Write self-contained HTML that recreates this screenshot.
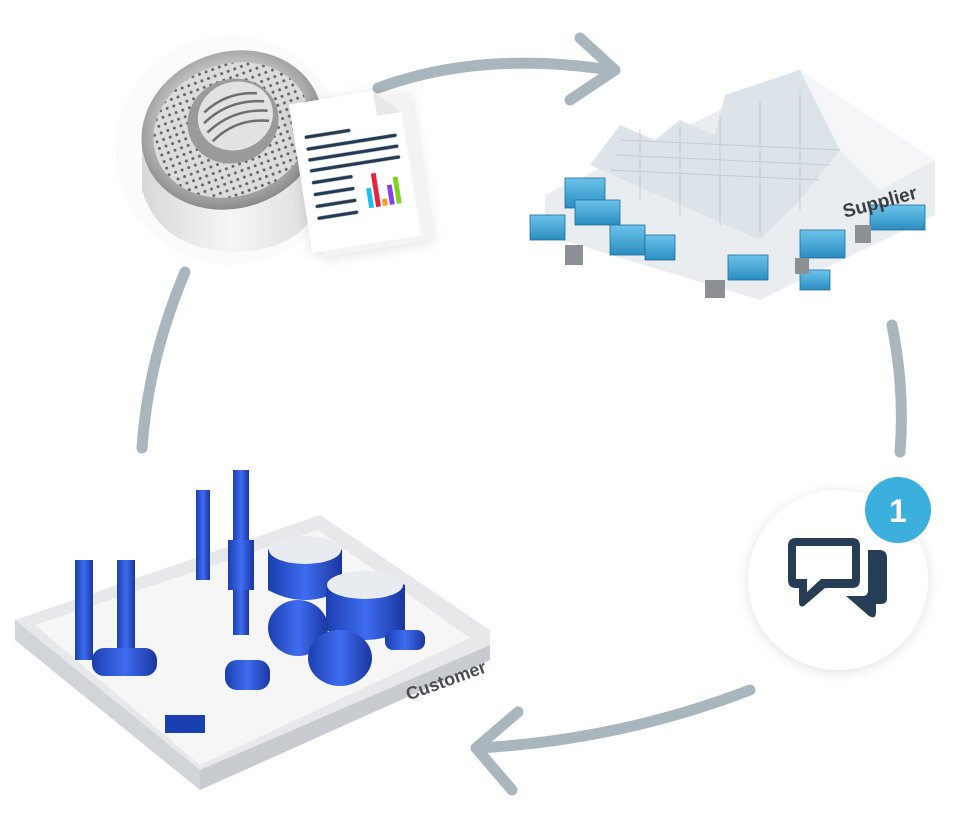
<!DOCTYPE html>
<html><head><meta charset="utf-8"><style>
html,body{margin:0;padding:0;background:#fff;width:972px;height:815px;overflow:hidden}
svg{display:block}
</style></head><body>
<svg width="972" height="815" viewBox="0 0 972 815" xmlns="http://www.w3.org/2000/svg" font-family="Liberation Sans, sans-serif">
<defs>
<radialGradient id="ring" cx="50%" cy="45%" r="55%">
<stop offset="0" stop-color="#f4f4f4"/><stop offset="0.6" stop-color="#cfcfcf"/><stop offset="1" stop-color="#8a8a8a"/></radialGradient>
<pattern id="holes" width="7" height="7" patternUnits="userSpaceOnUse"><rect width="7" height="7" fill="#dcdcdc"/><circle cx="3.5" cy="3.5" r="1.5" fill="#666"/></pattern>
<linearGradient id="cont" x1="0" y1="0" x2="0" y2="1"><stop offset="0" stop-color="#6cc3ea"/><stop offset="1" stop-color="#2a8dc0"/></linearGradient>
<linearGradient id="blu" x1="0" y1="0" x2="1" y2="0"><stop offset="0" stop-color="#1a3fb0"/><stop offset="0.5" stop-color="#3f6cf0"/><stop offset="1" stop-color="#1a36a0"/></linearGradient>
<linearGradient id="side" x1="0" y1="0" x2="1" y2="0"><stop offset="0" stop-color="#d8d8d8"/><stop offset="0.5" stop-color="#f6f6f6"/><stop offset="1" stop-color="#dcdcdc"/></linearGradient>
<filter id="sh" x="-30%" y="-30%" width="160%" height="160%"><feDropShadow dx="0" dy="2" stdDeviation="6" flood-color="#000" flood-opacity="0.12"/></filter>
</defs>
<g fill="none" stroke="#a9b6bd" stroke-width="11" stroke-linecap="round" stroke-linejoin="round">
<path d="M378 88 Q480 50 610 70"/>
<path d="M580 38 L615 70 L570 100"/>
<path d="M892 325 Q905 390 900 452"/>
<path d="M750 690 Q620 740 478 748"/>
<path d="M518 712 L476 748 L512 790"/>
<path d="M185 272 Q148 360 142 448"/>
</g>
<!-- ring -->
<circle cx="230" cy="150" r="115" fill="#fbfbfb"/>
<path d="M142 140 L142 190 Q160 250 235 252 Q305 250 320 200 L320 140 Z" fill="url(#side)"/>
<g transform="rotate(-20 232 130)">
<ellipse cx="232" cy="130" rx="92" ry="78" fill="url(#ring)"/>
<ellipse cx="232" cy="130" rx="80" ry="66" fill="url(#holes)"/>
<ellipse cx="236" cy="122" rx="46" ry="42" fill="#9a9a9a"/>
<ellipse cx="240" cy="118" rx="38" ry="34" fill="#e2e2e2"/>
<g stroke="#6e6e6e" stroke-width="2.5" fill="none"><path d="M212 104 Q240 92 268 104"/><path d="M208 114 Q240 100 272 114"/><path d="M208 124 Q240 110 272 124"/><path d="M210 134 Q240 120 270 134"/></g>
</g>
<!-- document -->
<g transform="rotate(-9 355 170)" filter="url(#sh)">
<rect x="305" y="95" width="110" height="150" fill="#f3f3f3" transform="translate(6 6)"/>
<path d="M300 95 L385 95 L410 120 L410 245 L300 245 Z" fill="#fff"/>
<path d="M385 95 L385 120 L410 120 Z" fill="#e8e8e8"/>
<g stroke="#243a54" stroke-width="3.5" stroke-linecap="round">
<line x1="312" y1="130" x2="355" y2="130"/><line x1="312" y1="142" x2="400" y2="142"/><line x1="312" y1="153" x2="400" y2="153"/><line x1="312" y1="164" x2="400" y2="164"/><line x1="312" y1="176" x2="350" y2="176"/><line x1="312" y1="188" x2="350" y2="188"/><line x1="312" y1="200" x2="350" y2="200"/><line x1="312" y1="212" x2="350" y2="212"/></g>
<rect x="363" y="190" width="5" height="20" fill="#1fc0f0"/><rect x="370" y="176" width="5" height="34" fill="#e8203a"/><rect x="377" y="203" width="5" height="7" fill="#f59a23"/><rect x="384" y="190" width="5" height="20" fill="#8a3ee8"/><rect x="391" y="183" width="5" height="27" fill="#7ed321"/></g>
<!-- supplier -->
<path d="M545 195 L720 110 L730 95 L800 70 L935 160 L935 215 L760 300 L545 235 Z" fill="#e9edf0"/>
<path d="M590 165 L620 125 L655 140 L680 120 L715 135 L725 95 L800 70 L840 150 L800 200 L760 240 Z" fill="#dce3e9"/>
<path d="M800 70 L935 160 L880 190 L840 150 Z" fill="#f4f6f8"/>
<g stroke="#c2ccd4" stroke-width="1" fill="none">
<path d="M620 140 L840 150"/><path d="M615 155 L830 165"/><path d="M610 170 L820 180"/><path d="M640 130 L640 200"/><path d="M680 125 L680 215"/><path d="M720 115 L720 225"/><path d="M760 100 L760 235"/><path d="M800 90 L800 210"/></g>
<g fill="url(#cont)" stroke="#1e6f9a" stroke-width="0.8">
<rect x="565" y="178" width="40" height="30"/><rect x="575" y="200" width="45" height="25"/><rect x="530" y="215" width="35" height="25"/><rect x="610" y="225" width="35" height="30"/><rect x="645" y="235" width="30" height="25"/><rect x="728" y="255" width="40" height="25"/><rect x="800" y="230" width="45" height="28"/><rect x="870" y="205" width="55" height="25"/><rect x="800" y="270" width="30" height="20"/></g>
<g fill="#8c9095"><rect x="565" y="245" width="18" height="20"/><rect x="705" y="280" width="20" height="18"/><rect x="795" y="258" width="14" height="16"/><rect x="855" y="225" width="16" height="18"/></g>
<text x="840" y="208" font-size="19" font-weight="bold" fill="#3b3f44" transform="rotate(-15 880 195)">Supplier</text>
<!-- customer -->
<path d="M15 620 L320 515 L490 630 L490 660 L200 790 L15 640 Z" fill="#e6e8ea"/>
<path d="M35 625 L318 530 L470 638 L200 765 Z" fill="#f6f6f6"/>
<path d="M15 620 L15 640 L200 790 L200 770 Z" fill="#d2d5d8"/>
<path d="M200 770 L490 645 L490 660 L200 790 Z" fill="#c8ccd0"/>
<g fill="url(#blu)">
<rect x="196" y="490" width="14" height="90"/><rect x="233" y="470" width="16" height="165"/><rect x="228" y="540" width="26" height="50"/>
<rect x="75" y="560" width="18" height="100"/><rect x="117" y="560" width="18" height="100"/>
<path d="M268 550 Q305 530 342 550 L342 590 Q305 610 268 590 Z"/>
<path d="M326 585 Q365 565 405 585 L405 630 Q365 650 326 630 Z"/>
<ellipse cx="298" cy="628" rx="30" ry="28"/><ellipse cx="340" cy="658" rx="32" ry="28"/>
<rect x="92" y="648" width="65" height="28" rx="12"/><rect x="225" y="660" width="45" height="30" rx="12"/><rect x="385" y="630" width="40" height="20" rx="8"/></g>
<ellipse cx="305" cy="550" rx="36" ry="14" fill="#e8ecf0"/><ellipse cx="365" cy="585" rx="38" ry="14" fill="#e8ecf0"/>
<g fill="#1a3fb0"><rect x="165" y="715" width="40" height="18"/></g>
<text x="400" y="688" font-size="18" font-weight="bold" fill="#4a4d52" transform="rotate(-20 440 670)">Customer</text>
<!-- chat -->
<circle cx="838" cy="580" r="90" fill="#fff" filter="url(#sh)"/>
<g fill="#253d55">
<path d="M788 538 H852 Q860 538 860 546 V580 Q860 588 852 588 H825 L804 606 Q799 608 799 602 V588 H796 Q788 588 788 580 V546 Q788 538 796 538 Z M796 546 V579 H807 V592 L821 579 H852 V546 Z" fill-rule="evenodd"/>
<path d="M868 550 H879 Q887 550 887 558 V598 Q887 604 881 604 H876 V612 Q876 620 869 616 L846 596 H863 Q868 596 868 590 Z"/>
</g>
<circle cx="898" cy="510" r="33" fill="#3bb0dd"/>
<text x="898" y="522" font-size="32" font-weight="bold" fill="#fff" text-anchor="middle">1</text>
</svg>
</body></html>
